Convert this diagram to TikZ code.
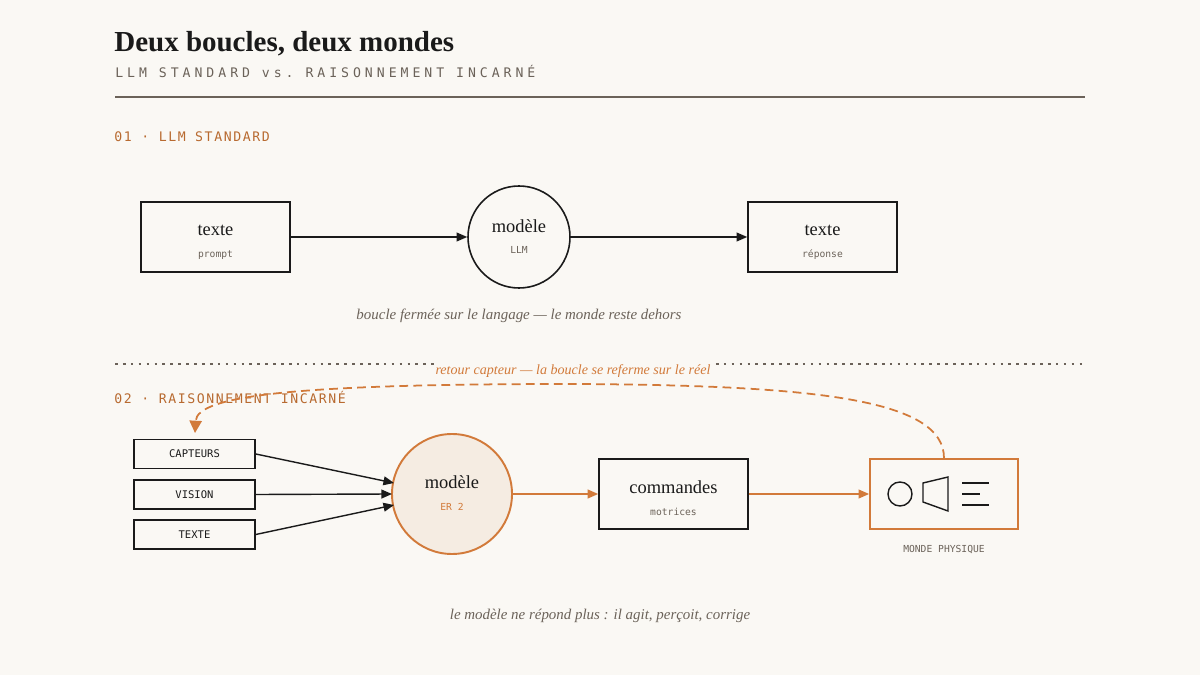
\documentclass[tikz,border=0pt]{standalone}
\usepackage{fontspec}
\setmainfont{Liberation Serif}
\setmonofont{DejaVu Sans Mono}
\usetikzlibrary{arrows.meta}
\definecolor{bg}{HTML}{FAF8F4}
\definecolor{ora}{HTML}{D27A3A}
\definecolor{orat}{HTML}{B86A30}
\definecolor{ink}{HTML}{1A1A1A}
\definecolor{gr}{HTML}{6B6259}
\definecolor{cfill}{HTML}{F5ECE2}
\begin{document}
\begin{tikzpicture}[x=0.02cm,y=-0.02cm,
 box/.style={draw=ink,line width=0.9pt,fill=bg},
 sbox/.style={draw=ink,line width=0.9pt,minimum width=121*0.02cm,minimum height=29*0.02cm,inner sep=0pt,font=\ttfamily\fontsize{6}{7}\selectfont,text=ink},
 big/.style={font=\fontsize{10.5}{12}\selectfont,text=ink},
 small/.style={font=\ttfamily\fontsize{5.5}{7}\selectfont,text=gr},
 arr/.style={-{Triangle[length=6pt,width=5pt]},line width=0.8pt,draw=ink},
 oarr/.style={-{Triangle[length=6pt,width=5pt]},line width=0.9pt,draw=ora,fill=ora},
 captxt/.style={font=\itshape\fontsize{8.5}{10}\selectfont,text=gr},
 sec/.style={font=\ttfamily\fontsize{7.5}{9}\selectfont\addfontfeature{LetterSpace=12},text=orat,anchor=west}]
\fill[bg] (0,0) rectangle (1200,675);
\node[anchor=base west,inner sep=0,font=\bfseries\fontsize{16.5}{18}\selectfont,text=ink] (title) at (114,52) {Deux boucles, deux mondes};
\node[anchor=base west,inner sep=0,font=\ttfamily\fontsize{7.5}{9}\selectfont\addfontfeature{LetterSpace=30},text=gr] (sub) at (115,78) {LLM STANDARD vs. RAISONNEMENT INCARNÉ};
\draw[gr,line width=0.7pt] (115,97) -- (1085,97);
\node[sec,inner sep=0] (s1) at (114,137) {01 · LLM STANDARD};
% row 1
\node[box,minimum width=149*0.02cm,minimum height=70*0.02cm] (b1) at (215.5,237) {};
\node[big] (t1) at (215.5,230) {texte};
\node[small] (p1) at (215.5,255) {prompt};
\node[box,circle,minimum size=102*0.02cm] (c1) at (519,237) {};
\node[big] (t2) at (519,226) {modèle};
\node[small] (p2) at (519,250) {LLM};
\node[box,minimum width=149*0.02cm,minimum height=70*0.02cm] (b3) at (822.5,237) {};
\node[big] (t3) at (822.5,230) {texte};
\node[small] (p3) at (822.5,255) {réponse};
\draw[arr] (b1.east) -- (c1.west);
\draw[arr] (c1.east) -- (b3.west);
\node[captxt] (cap1) at (519,316) {boucle fermée sur le langage — le monde reste dehors};
\draw[gr,line width=0.7pt,dash pattern=on 1.5pt off 3pt] (115,364) -- (1085,364);
\node[sec,inner sep=0] (s2) at (114,397) {02 · RAISONNEMENT INCARNÉ};
% row 2
\node[sbox] (k1) at (194.5,454) {CAPTEURS};
\node[sbox] (k2) at (194.5,494.5) {VISION};
\node[sbox] (k3) at (194.5,534.5) {TEXTE};
\node[circle,draw=ora,fill=cfill,line width=1.1pt,minimum size=120*0.02cm] (c2) at (452,494) {};
\node[big] (t4) at (452,482) {modèle};
\node[font=\ttfamily\fontsize{5.5}{7}\selectfont,text=ora] (p4) at (452,507) {ER 2};
\node[box,minimum width=149*0.02cm,minimum height=70*0.02cm] (b5) at (673.5,494) {};
\node[big] (t5) at (673.5,487) {commandes};
\node[small] (p5) at (673.5,512) {motrices};
\node[draw=ora,line width=1pt,minimum width=148*0.02cm,minimum height=70*0.02cm] (b6) at (944,494) {};
\node[small] (m6) at (944,550) {MONDE PHYSIQUE};
\coordinate (e1) at (394,483);
\coordinate (e2) at (392,494);
\coordinate (e3) at (394,505);
\draw[arr] (k1.east) -- (e1);
\draw[arr] (k2.east) -- (e2);
\draw[arr] (k3.east) -- (e3);
\draw[oarr] (c2.east) -- (b5.west);
\draw[oarr] (b5.east) -- (b6.west);
% icons
\draw[ink,line width=0.8pt] (900,494) circle (12);
\draw[ink,line width=0.8pt] (923,483) -- (948,477) -- (948,511) -- (923,502) -- cycle;
\draw[ink,line width=0.8pt] (962,483) -- (989,483) (962,494) -- (980,494) (962,505) -- (989,505);
% loop
\coordinate (lp) at (195,433);
\draw[ora,line width=1pt,dash pattern=on 5pt off 3pt,-{Triangle[length=7pt,width=7pt]}] (b6.north) .. controls (944,400) and (820,385) .. (570,384) .. controls (300,384) and (197,395) .. (lp);
\node[font=\itshape\fontsize{8}{10}\selectfont,text=ora,fill=bg,inner sep=1pt] (lt) at (573,371) {retour capteur — la boucle se referme sur le réel};
\node[captxt] (cap2) at (600,616) {le modèle ne répond plus : il agit, perçoit, corrige};
\end{tikzpicture}
\end{document}
